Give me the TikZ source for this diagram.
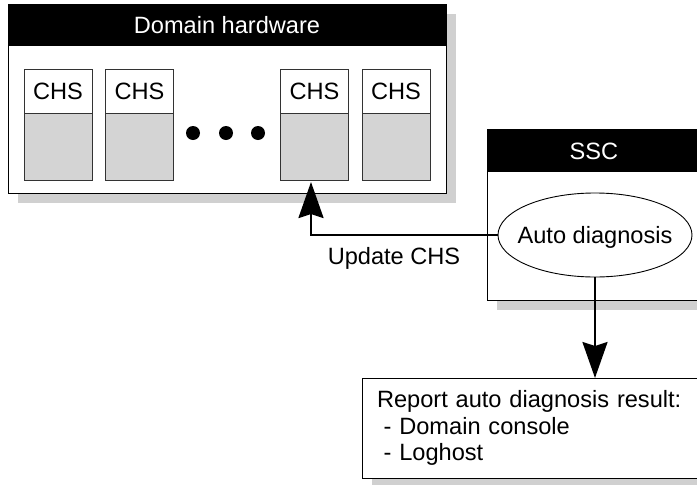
\documentclass[tikz,border=0pt]{standalone}
\usepackage{fontspec}
\setmainfont{Liberation Sans}
\usetikzlibrary{arrows.meta,shapes.geometric,backgrounds}
\definecolor{shadowgray}{RGB}{208,208,208}
\definecolor{slotgray}{RGB}{212,212,212}
\begin{document}
\begin{tikzpicture}[x=1pt,y=-1pt,
  every node/.style={font=\fontsize{23.6}{26.5}\selectfont, inner sep=0pt, outer sep=0pt},
  txt/.style={text height=17pt, text depth=0pt},
  panel/.style={rectangle, draw=black, line width=1pt, fill=white},
  header/.style={rectangle, fill=black, text=white, txt},
  chslabel/.style={rectangle, draw=black!80, line width=0.9pt, fill=white,
    minimum width=68pt, minimum height=44pt, txt},
  chsbody/.style={rectangle, draw=black!80, line width=0.9pt, fill=slotgray,
    minimum width=68pt, minimum height=67pt},
  dot/.style={circle, fill=black, minimum size=14pt},
  flow/.style={line width=2.5pt, -{Stealth[length=36pt,width=25pt,inset=4pt]}},
  shadowfill/.style={fill=shadowgray}
]
\clip (0,0) rectangle (697,485);

% Domain hardware panel
\node[panel, minimum width=438pt, minimum height=189pt] (dom) at (227,98.5) {};
\node[header, minimum width=438pt, minimum height=42pt, anchor=north] (domhead) at (dom.north) {Domain hardware};

% CHS slots
\node[chslabel] (chs1t) at (58,91) {CHS};
\node[chsbody, anchor=north] (chs1b) at (chs1t.south) {};
\node[chslabel] (chs2t) at (139.5,91) {CHS};
\node[chsbody, anchor=north] (chs2b) at (chs2t.south) {};
\node[chslabel] (chs3t) at (314.5,91) {CHS};
\node[chsbody, anchor=north] (chs3b) at (chs3t.south) {};
\node[chslabel] (chs4t) at (396,91) {CHS};
\node[chsbody, anchor=north] (chs4b) at (chs4t.south) {};

% ellipsis dots
\node[dot] (d1) at (193,133) {};
\node[dot] (d2) at (226,133) {};
\node[dot] (d3) at (258,133) {};

% SSC panel
\node[panel, minimum width=214pt, minimum height=171pt] (ssc) at (594,214.5) {};
\node[header, minimum width=214pt, minimum height=43pt, anchor=north] (sschead) at (ssc.north) {SSC};
\node[ellipse, draw=black, line width=0.9pt, fill=white, inner xsep=-15pt,
  minimum width=194pt, minimum height=84pt, txt] (auto) at (595,235) {Auto diagnosis};

% report box
\node[panel, anchor=north west, minimum width=350pt, minimum height=100pt,
  text width=320pt, inner xsep=15pt, align=left] (rep) at (362,378)
  {Report auto diagnosis result:\\\hspace*{0.28em}- Domain console\\\hspace*{0.28em}- Loghost};

% drop shadows
\begin{scope}[on background layer]
  \fill[shadowfill] ([shift={(10,10)}]dom.north west) rectangle ([shift={(10,10)}]dom.south east);
  \fill[shadowfill] ([shift={(10,10)}]ssc.north west) rectangle ([shift={(10,10)}]ssc.south east);
  \fill[shadowfill] ([shift={(10,10)}]rep.north west) rectangle ([shift={(10,10)}]rep.south east);
\end{scope}

% connectors
\draw[flow, shorten >=2pt] (auto.west) -| ([xshift=-3.5pt]chs3b.south);
\node[txt] (upd) at (394,256) {Update CHS};
\draw[flow] (auto.south) -- (auto.south |- rep.north);
\end{tikzpicture}
\end{document}
